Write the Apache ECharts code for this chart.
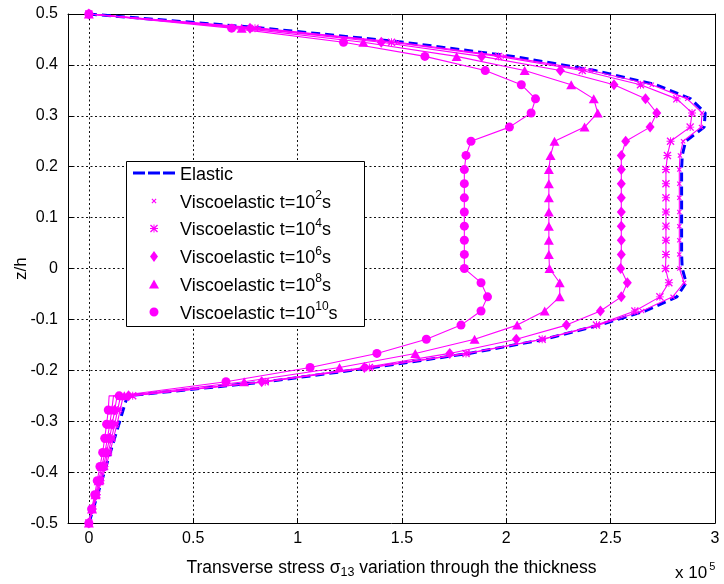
<!DOCTYPE html>
<html>
<head>
<meta charset="utf-8">
<script src="https://cdn.jsdelivr.net/npm/echarts@6/dist/echarts.min.js"></script>
<style>html,body{margin:0;padding:0;background:#fff}#c{width:724px;height:584px}</style>
</head>
<body>
<div id="c"></div>
<script>
// z/h positions (the -0.25 interface appears twice: bottom-layer side, then upper side)
const zLevels = [-0.5, -0.4722, -0.4444, -0.4167, -0.3889, -0.3611, -0.3333, -0.3056, -0.2778, -0.25,
  -0.25, -0.2222, -0.1944, -0.1667, -0.1389, -0.1111, -0.0833, -0.0556, -0.0278, 0,
  0.0278, 0.0556, 0.0833, 0.1111, 0.1389, 0.1667, 0.1944, 0.2222, 0.25, 0.2778,
  0.3056, 0.3333, 0.3611, 0.3889, 0.4167, 0.4444, 0.4722, 0.5];

// transverse stress sigma13 (x 10^5)
const elastic = [0, 0.021, 0.041, 0.062, 0.082, 0.103, 0.123, 0.144, 0.164, 0.185,
  0.185, 0.855, 1.360, 1.822, 2.184, 2.445, 2.666, 2.817, 2.862, 2.843,
  2.840, 2.840, 2.840, 2.840, 2.840, 2.840, 2.840, 2.843, 2.859, 2.948,
  2.953, 2.884, 2.717, 2.425, 2.033, 1.510, 0.837, 0];
const visco1e2 = [0, 0.020, 0.041, 0.061, 0.081, 0.101, 0.118, 0.135, 0.150, 0.165,
  0.200, 0.852, 1.355, 1.817, 2.177, 2.440, 2.651, 2.797, 2.852, 2.829,
  2.829, 2.829, 2.829, 2.829, 2.829, 2.829, 2.829, 2.832, 2.847, 2.933,
  2.938, 2.867, 2.697, 2.405, 1.993, 1.480, 0.816, 0];
const visco1e4 = [0, 0.018, 0.038, 0.056, 0.075, 0.093, 0.109, 0.124, 0.138, 0.152,
  0.210, 0.845, 1.344, 1.807, 2.172, 2.432, 2.616, 2.736, 2.779, 2.763,
  2.765, 2.765, 2.765, 2.765, 2.765, 2.765, 2.765, 2.772, 2.787, 2.881,
  2.890, 2.817, 2.643, 2.364, 1.963, 1.450, 0.796, 0];
const visco1e6 = [0, 0.016, 0.035, 0.052, 0.069, 0.085, 0.099, 0.112, 0.124, 0.135,
  0.190, 0.828, 1.320, 1.729, 2.048, 2.288, 2.451, 2.551, 2.580, 2.548,
  2.551, 2.551, 2.551, 2.551, 2.551, 2.551, 2.551, 2.551, 2.572, 2.689,
  2.721, 2.667, 2.516, 2.259, 1.882, 1.401, 0.772, 0];
const visco1e8 = [0, 0.015, 0.032, 0.047, 0.062, 0.077, 0.089, 0.100, 0.110, 0.118,
  0.170, 0.744, 1.201, 1.564, 1.848, 2.052, 2.184, 2.256, 2.256, 2.207,
  2.204, 2.204, 2.204, 2.204, 2.204, 2.204, 2.204, 2.212, 2.231, 2.375,
  2.438, 2.419, 2.311, 2.088, 1.762, 1.315, 0.732, 0];
const visco1e10 = [0, 0.013, 0.028, 0.040, 0.053, 0.066, 0.076, 0.085, 0.093, 0.097,
  0.145, 0.657, 1.060, 1.380, 1.617, 1.783, 1.879, 1.910, 1.879, 1.799,
  1.799, 1.799, 1.799, 1.799, 1.799, 1.799, 1.799, 1.807, 1.831, 2.015,
  2.119, 2.140, 2.072, 1.899, 1.610, 1.220, 0.684, 0];

const xTicks = [0, 0.5, 1, 1.5, 2, 2.5, 3];
const seriesNames = ['Elastic', 'Viscoelastic t=10^2s', 'Viscoelastic t=10^4s', 'Viscoelastic t=10^6s', 'Viscoelastic t=10^8s', 'Viscoelastic t=10^10s'];
const legendSup = ['', '2', '4', '6', '8', '10'];

const MAG = '#ff00ff';
const FONT = 'Liberation Sans, Arial, Helvetica, sans-serif';
const xPath = 'path://M0,1.6L1.6,0L5,3.4L8.4,0L10,1.6L6.6,5L10,8.4L8.4,10L5,6.6L1.6,10L0,8.4L3.4,5Z';
const starPath = 'path://M0,4.4L10,4.4L10,5.6L0,5.6Z M4.4,0L5.6,0L5.6,10L4.4,10Z M0,1.2L1.2,0L5,3.8L8.8,0L10,1.2L6.2,5L10,8.8L8.8,10L5,6.2L1.2,10L0,8.8L3.8,5Z';
const circlePath = 'path://M5,0A5,5,0,1,1,4.99,0Z';
const triPath = 'path://M5,0L10,9L0,9Z';
const diaPath = 'path://M4,0L8,5.5L4,11L0,5.5Z';
const dashPath = 'path://M0,0L12,0L12,3L0,3Z M15,0L27,0L27,3L15,3Z M30,0L42,0L42,3L30,3Z';

function pts(vals, skipIdx) {
  return vals.map((v, i) => i === skipIdx ? { value: [v, zLevels[i]], symbol: 'none' } : [v, zLevels[i]]);
}

const viscoDefs = [
  { vals: visco1e2, symbol: xPath, size: 5 },
  { vals: visco1e4, symbol: starPath, size: 8 },
  { vals: visco1e6, symbol: 'diamond', size: [9, 11] },
  { vals: visco1e8, symbol: 'triangle', size: [10, 9] },
  { vals: visco1e10, symbol: 'circle', size: 9 }
];

const series = [{
  name: seriesNames[0], type: 'line', data: pts(elastic, -1), showSymbol: false, symbol: 'none',
  lineStyle: { color: '#0000ff', width: 3, type: [9, 5] }, itemStyle: { color: '#0000ff' },
  animation: false, z: 2
}];
viscoDefs.forEach((d, i) => {
  series.push({
    name: seriesNames[i + 1], type: 'line', data: pts(d.vals, 9),
    symbol: d.symbol, symbolSize: d.size, showSymbol: true, showAllSymbol: true,
    lineStyle: { color: MAG, width: 1.1 }, itemStyle: { color: MAG, borderWidth: 0 },
    animation: false, z: 3
  });
});

const richLegend = {
  a: { fontSize: 18, fontFamily: FONT, color: '#000', lineHeight: 22, verticalAlign: 'bottom' },
  sup: { fontSize: 12, fontFamily: FONT, color: '#000', lineHeight: 14, verticalAlign: 'top' }
};
const legendRows = [177, 201, 228.5, 256.5, 284, 312];
const legendIcons = [dashPath, xPath, starPath, diaPath, triPath, circlePath];
const legendIconH = [3, 5, 8, 11, 9, 9];
const legendIconW = [42, 5, 8, 8, 10, 9];
const legends = seriesNames.map((n, i) => ({
  show: true, left: 133 + (42 - legendIconW[i]) / 2, top: legendRows[i] - 11, padding: 0, itemGap: 0,
  itemWidth: 42, itemHeight: legendIconH[i], selectedMode: false, z: 20,
  data: [{ name: n, icon: legendIcons[i] }],
  formatter: () => i === 0 ? '{a|Elastic}' : '{a|Viscoelastic t=10}{sup|' + legendSup[i] + '}{a|s}',
  textStyle: { fontSize: 18, fontFamily: FONT, color: '#000', rich: richLegend }
}));

const axisLineStyle = { color: '#000', width: 1 };
const option = {
  backgroundColor: '#fff',
  animation: false,
  textStyle: { fontFamily: FONT },
  grid: { left: 68, right: 9, top: 14, bottom: 55, containLabel: false },
  legend: legends,
  xAxis: [{
    type: 'value', min: -0.1, max: 3, position: 'bottom',
    name: '{a|Transverse stress σ}{sub|13}{a| variation through the thickness}',
    nameLocation: 'middle', nameGap: 25,
    nameTextStyle: { color: '#000', fontSize: 17.5, fontFamily: FONT,
      rich: { a: { fontSize: 17.5, fontFamily: FONT, color: '#000', lineHeight: 20, verticalAlign: 'top' },
              sub: { fontSize: 12.5, fontFamily: FONT, color: '#000', lineHeight: 12, padding: [15, 0, 0, 0], verticalAlign: 'bottom' } } },
    axisLine: { show: true, onZero: false, lineStyle: axisLineStyle },
    axisTick: { show: true, inside: true, length: 5, customValues: xTicks, lineStyle: axisLineStyle },
    axisLabel: { customValues: xTicks, color: '#000', fontSize: 16, fontFamily: FONT, margin: 7 },
    splitLine: { show: true, lineStyle: { color: '#111', width: 1, type: [2, 2.5] } }
  }, {
    type: 'value', min: -0.1, max: 3, position: 'top',
    axisLine: { show: true, onZero: false, lineStyle: axisLineStyle },
    axisTick: { show: true, inside: true, length: 5, customValues: xTicks, lineStyle: axisLineStyle },
    axisLabel: { show: false, customValues: xTicks },
    splitLine: { show: false }
  }],
  yAxis: [{
    type: 'value', min: -0.5, max: 0.5, interval: 0.1, position: 'left',
    name: 'z/h', nameLocation: 'middle', nameGap: 38, nameMoveOverlap: false,
    nameTextStyle: { color: '#000', fontSize: 17, fontFamily: FONT },
    axisLine: { show: true, onZero: false, lineStyle: axisLineStyle },
    axisTick: { show: true, inside: true, length: 5, lineStyle: axisLineStyle },
    axisLabel: { color: '#000', fontSize: 16, fontFamily: FONT, margin: 10 },
    splitLine: { show: true, lineStyle: { color: '#111', width: 1, type: [2, 2.5] } }
  }, {
    type: 'value', min: -0.5, max: 0.5, interval: 0.1, position: 'right',
    axisLine: { show: true, onZero: false, lineStyle: axisLineStyle },
    axisTick: { show: true, inside: true, length: 5, lineStyle: axisLineStyle },
    axisLabel: { show: false },
    splitLine: { show: false }
  }],
  graphic: [{
    type: 'rect', z: 10,
    shape: { x: 126.5, y: 161.5, width: 238, height: 165 },
    style: { fill: '#fff', stroke: '#000', lineWidth: 1 }
  }, {
    type: 'text', z: 10, left: 675, top: 561,
    style: { text: '{a|x 10}{sup|5}', fontFamily: FONT,
      rich: { a: { fontSize: 17, fontFamily: FONT, fill: '#000', lineHeight: 21, verticalAlign: 'bottom' },
              sup: { fontSize: 11, fontFamily: FONT, fill: '#000', lineHeight: 12, verticalAlign: 'top', padding: [0, 0, 0, 2] } } }
  }],
  series: series
};
const chart = echarts.init(document.getElementById('c'), null, { renderer: 'canvas' });
chart.setOption(option);
</script>
</body>
</html>
